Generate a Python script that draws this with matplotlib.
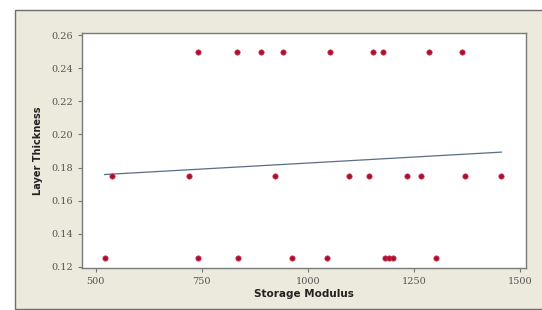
import numpy as np
import matplotlib.pyplot as plt
from matplotlib.patches import Rectangle

# layer thickness levels and storage modulus readings
thick_top = [0.25] * 9
mod_top = [740, 832, 890, 942, 1052, 1154, 1176, 1285, 1362]
thick_mid = [0.175] * 9
mod_mid = [538, 720, 922, 1097, 1143, 1233, 1265, 1369, 1455]
thick_low = [0.125] * 9
mod_low = [521, 742, 834, 962, 1044, 1181, 1191, 1201, 1301]

x_ticks = [500, 750, 1000, 1250, 1500]
y_ticks = [0.12, 0.14, 0.16, 0.18, 0.20, 0.22, 0.24, 0.26]

modulus = np.array(mod_top + mod_mid + mod_low, dtype=float)
thickness = np.array(thick_top + thick_mid + thick_low)

fig = plt.figure(figsize=(5.42, 3.10), dpi=100)
fig.patch.set_facecolor('white')
# beige panel behind the plot
fig.patches.append(Rectangle((15 / 542, 0.003), 1.0, 1 - 10 / 310 - 0.003,
                             transform=fig.transFigure, facecolor='#ECE9DD',
                             edgecolor='#6E6E6E', linewidth=1.0, zorder=-5))

ax = fig.add_axes([82 / 542, 1 - 268 / 310, (526 - 82) / 542, (268 - 33) / 310])
ax.set_zorder(5)
ax.set_facecolor('white')

ax.scatter(modulus, thickness, s=15, color='#A8102C', edgecolors='#D04060',
           linewidths=0.5, zorder=3)

# least squares fit line
slope, icept = np.polyfit(modulus, thickness, 1)
xs = np.array([modulus.min(), modulus.max()])
ax.plot(xs, slope * xs + icept, color='#5B6E86', linewidth=0.9, zorder=2)

ax.set_xlim(468, 1513)
ax.set_ylim(0.1192, 0.2614)
ax.set_xticks(x_ticks)
ax.set_yticks(y_ticks)
ax.set_yticklabels([f'{v:.2f}' for v in y_ticks])

for sp in ax.spines.values():
    sp.set_color('#7A7A7A')
    sp.set_linewidth(1.0)
ax.tick_params(direction='out', length=3, width=0.8, color='#777777',
               labelsize=7, labelcolor='#555555')
for lab in ax.get_xticklabels() + ax.get_yticklabels():
    lab.set_family('DejaVu Serif')

ax.set_xlabel('Storage Modulus', fontsize=7.5, fontweight='bold', color='#222222', labelpad=2)
ax.set_ylabel('Layer Thickness', fontsize=7, fontweight='bold', color='#222222', labelpad=6)

fig.savefig('out.png', dpi=100)
